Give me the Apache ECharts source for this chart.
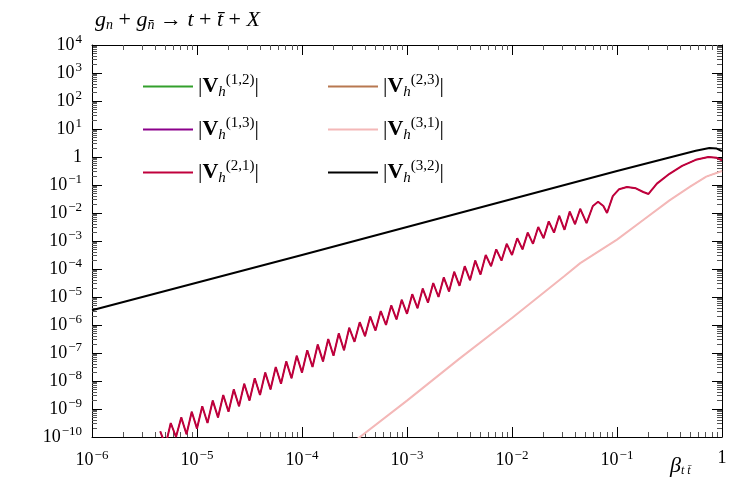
<!DOCTYPE html>
<html>
<head>
<meta charset="utf-8">
<script src="https://cdn.jsdelivr.net/npm/echarts@6/dist/echarts.min.js"></script>
<style>html,body{margin:0;padding:0;background:#fff}#chart{width:747px;height:499px}</style>
</head>
<body>
<div id="chart"></div>
<script>
// values, stored as [log10(beta), log10(|V|)]
const crimsonPts = [[-5.35,-9.8],[-5.30,-10.3],[-5.25,-9.5],[-5.20,-10.0],[-5.15,-9.3],[-5.10,-9.9],[-5.05,-9.1],[-5.00,-9.7],[-4.95,-8.9],[-4.90,-9.5],[-4.85,-8.7],[-4.80,-9.3],[-4.75,-8.5],[-4.70,-9.1],[-4.65,-8.3],[-4.60,-8.9],[-4.55,-8.1],[-4.50,-8.7],[-4.45,-7.9],[-4.40,-8.5],[-4.35,-7.7],[-4.30,-8.3],[-4.25,-7.5],[-4.20,-8.1],[-4.15,-7.3],[-4.10,-7.9],[-4.05,-7.1],[-4.00,-7.7],[-3.95,-6.9],[-3.90,-7.5],[-3.85,-6.7],[-3.80,-7.3],[-3.75,-6.5],[-3.70,-7.1],[-3.65,-6.3],[-3.60,-6.9],[-3.55,-6.1],[-3.50,-6.6],[-3.45,-5.9],[-3.40,-6.4],[-3.35,-5.7],[-3.30,-6.2],[-3.25,-5.5],[-3.20,-6.0],[-3.15,-5.3],[-3.10,-5.8],[-3.05,-5.1],[-3.00,-5.6],[-2.95,-4.9],[-2.90,-5.4],[-2.85,-4.7],[-2.80,-5.2],[-2.75,-4.5],[-2.70,-5.0],[-2.65,-4.3],[-2.60,-4.8],[-2.55,-4.1],[-2.50,-4.6],[-2.45,-3.9],[-2.40,-4.4],[-2.35,-3.7],[-2.30,-4.2],[-2.25,-3.5],[-2.20,-3.9],[-2.15,-3.3],[-2.10,-3.7],[-2.05,-3.1],[-2.00,-3.5],[-1.95,-2.9],[-1.90,-3.3],[-1.85,-2.7],[-1.80,-3.1],[-1.75,-2.5],[-1.70,-2.9],[-1.65,-2.3],[-1.60,-2.7],[-1.55,-2.1],[-1.50,-2.6],[-1.45,-1.95],[-1.40,-2.4],[-1.35,-1.85],[-1.29,-2.36],[-1.23,-1.75],[-1.18,-1.6],[-1.13,-1.75],[-1.095,-2.0],[-1.04,-1.4],[-0.98,-1.15],[-0.905,-1.07],[-0.82,-1.12],[-0.75,-1.25],[-0.70,-1.32],[-0.62,-0.95],[-0.5,-0.6],[-0.38,-0.32],[-0.25,-0.1],[-0.13,0.0],[-0.05,-0.03],[0,-0.12]];
const pinkPts = [[-3.50,-10.15],[-3.0,-8.7],[-2.5,-7.2],[-2.0,-5.75],[-1.5,-4.25],[-1.35,-3.79],[-1.0,-2.95],[-0.75,-2.25],[-0.5,-1.55],[-0.3,-1.05],[-0.15,-0.7],[0,-0.5]];
const blackPts = [[-6,-5.47],[-4,-3.5],[-2,-1.5],[-1,-0.5],[-0.5,-0.02],[-0.25,0.22],[-0.12,0.32],[-0.05,0.3],[0,0.21]];
const seriesNames = ['12', '13', '21', '23', '31', '32'];
const seriesColors = ['#33a02c', '#8b008b', '#c0003c', '#b87850', '#f4b8b8', '#000000'];

const toVal = pts => pts.map(p => [Math.pow(10, p[0]), Math.pow(10, p[1])]);
const seriesData = [crimsonPts, crimsonPts, crimsonPts, pinkPts, pinkPts, blackPts];
const onTop = [false, false, true, false, true, true];

const serif = 'Liberation Serif';
const chart = echarts.init(document.getElementById('chart'));

const powLabel = v => {
    const e = Math.round(Math.log10(v));
    if (e === 0) return '1';
    return '10{s|' + (e < 0 ? '\u2212' + (-e) : e) + '}';
};
const labelRich = { s: { fontSize: 13, fontFamily: serif, color: '#000', verticalAlign: 'top', padding: [0, 0, 10, 1] } };

const axisCommon = {
    type: 'log', logBase: 10, interval: 1,
    axisLine: { lineStyle: { color: '#000', width: 1 } },
    axisTick: { inside: true, length: 10, lineStyle: { color: '#000' } },
    minorTick: { show: true, splitNumber: 9, length: 5, lineStyle: { color: '#555' } },
    splitLine: { show: false }
};

const legendFmt = name => '|{b|V}{h|h}{sup|(' + name[0] + ',' + name[1] + ')}|';
const legendRich = {
    b: { fontFamily: serif, fontWeight: 'bold', fontSize: 22, color: '#000' },
    h: { fontFamily: serif, fontStyle: 'italic', fontSize: 15, color: '#000', verticalAlign: 'bottom', padding: [12, 0, 0, 0] },
    sup: { fontFamily: serif, fontSize: 15, color: '#000', verticalAlign: 'top', padding: [0, 0, 12, 0] }
};
const legendCommon = {
    orient: 'vertical', icon: 'rect', itemWidth: 50, itemHeight: 2, itemGap: 16,
    formatter: legendFmt,
    textStyle: { fontFamily: serif, fontSize: 22, color: '#000', rich: legendRich }
};

chart.setOption({
    animation: false,
    title: {
        text: '{i|g}{s|n} + {i|g}{s|n\u0304} \u2192 {i|t} + {i|t\u0304} + {i|X}',
        left: 90, top: 4,
        textStyle: {
            fontFamily: serif, fontSize: 22, fontWeight: 'normal', color: '#000',
            rich: {
                i: { fontFamily: serif, fontStyle: 'italic', fontSize: 22, color: '#000' },
                s: { fontFamily: serif, fontStyle: 'italic', fontSize: 14, color: '#000', verticalAlign: 'bottom', padding: [9, 0, 0, 0] }
            }
        }
    },
    legend: [
        Object.assign({ left: 138, top: 68, data: ['12', '13', '21'] }, legendCommon),
        Object.assign({ left: 323, top: 68, data: ['23', '31', '32'] }, legendCommon)
    ],
    grid: { left: 92, right: 25, top: 45, bottom: 62 },
    xAxis: [
        Object.assign({}, axisCommon, {
            min: 1e-6, max: 1, position: 'bottom',
            axisLabel: { formatter: powLabel, fontFamily: serif, fontSize: 18, color: '#000', margin: 12, rich: labelRich },
            name: '{b|\u03b2}{s|t t\u0304}', nameLocation: 'end', nameGap: 0,
            nameTextStyle: {
                fontFamily: serif, fontSize: 20, color: '#000', padding: [58, 0, 0, -52],
                rich: {
                    b: { fontFamily: serif, fontStyle: 'italic', fontSize: 22, color: '#000' },
                    s: { fontFamily: serif, fontStyle: 'italic', fontSize: 12, color: '#000', verticalAlign: 'bottom', padding: [10, 0, 0, 0] }
                }
            }
        }),
        Object.assign({}, axisCommon, { min: 1e-6, max: 1, position: 'top', axisLabel: { show: false } })
    ],
    yAxis: [
        Object.assign({}, axisCommon, {
            min: 1e-10, max: 1e4, position: 'left',
            axisLabel: { formatter: powLabel, fontFamily: serif, fontSize: 18, color: '#000', margin: 10, rich: labelRich }
        }),
        Object.assign({}, axisCommon, { min: 1e-10, max: 1e4, position: 'right', axisLabel: { show: false } })
    ],
    series: seriesNames.map((n, i) => ({
        name: n, type: 'line', showSymbol: false, symbol: 'none',
        data: toVal(seriesData[i]),
        lineStyle: { color: seriesColors[i], width: onTop[i] ? 2 : 1 },
        itemStyle: { color: seriesColors[i] },
        z: onTop[i] ? 3 : 2,
        clip: true
    }))
});
</script>
</body>
</html>
